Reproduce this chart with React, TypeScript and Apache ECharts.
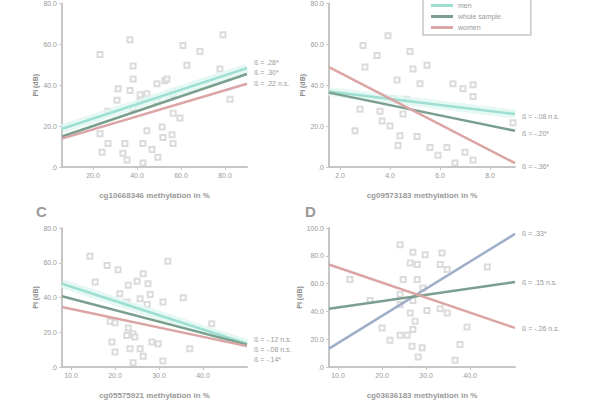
import React, { useEffect, useRef } from "react";
import * as echarts from "echarts";

const yTicksABC = [0, 20, 40, 60, 80];
const yTicksD = [0, 20, 40, 60, 80, 100];
const xTicksA = [20, 40, 60, 80];
const xTicksB = [2, 4, 6, 8];
const xTicksC = [10, 20, 30, 40];
const xTicksD = [10, 20, 30, 40];

const legendNames = ["men", "whole sample", "women"];

const pointsA = [
  [36.8, 62.3], [79.1, 64.7], [23.2, 55.1], [60.9, 59.4], [68.6, 56.5], [38.2, 49.4], [62.7, 49.8],
  [77.7, 47.9], [38.2, 43.1], [31.4, 38.3], [36.8, 37.4], [49.1, 40.7], [52.7, 42.2], [30.9, 32.6],
  [41.4, 35.4], [41.4, 32.1], [82.3, 33.1], [38.2, 28.7], [56.4, 26.3], [59.5, 24.0], [23.2, 16.3],
  [44.5, 17.7], [51.4, 19.6], [55.9, 15.8], [26.8, 11.5], [34.5, 11.5], [42.7, 11.5], [51.8, 14.4],
  [56.4, 11.5], [24.1, 7.2], [33.6, 6.7], [46.8, 8.6], [49.5, 4.8], [35.5, 3.4], [42.7, 1.9],
  [26.8, 27.3], [49.1, 32.1], [56.4, 35.4], [44.5, 35.9], [53.6, 43.1]
];
const pointsB = [
  [3.92, 64.2], [2.92, 59.4], [3.48, 54.6], [4.8, 56.5], [3.0, 48.9], [4.92, 47.9], [5.48, 49.8],
  [4.28, 42.6], [5.2, 40.7], [6.52, 40.7], [6.92, 38.3], [7.32, 40.2], [7.32, 34.5], [2.8, 28.3],
  [3.6, 27.3], [3.68, 22.5], [4.0, 20.1], [2.6, 17.7], [4.52, 25.9], [4.4, 15.3], [5.08, 14.9],
  [4.32, 10.5], [5.6, 9.6], [5.92, 5.7], [6.28, 9.6], [7.0, 7.2], [7.32, 3.4], [6.6, 1.9],
  [8.92, 21.6], [4.12, 33.5], [4.68, 33.1]
];
const pointsC = [
  [14.3, 63.7], [18.2, 58.4], [20.7, 56.0], [32.0, 60.8], [26.4, 53.7], [15.5, 48.9], [23.0, 47.0],
  [25.0, 49.3], [27.5, 47.9], [21.1, 42.2], [28.0, 41.7], [25.7, 39.3], [35.5, 39.8], [30.9, 37.4],
  [22.7, 37.4], [27.3, 35.9], [18.9, 26.3], [23.0, 22.5], [24.1, 19.2], [22.7, 18.2], [24.5, 17.2],
  [19.3, 14.4], [28.4, 14.4], [29.8, 13.4], [42.0, 24.9], [20.0, 8.6], [23.4, 10.5], [25.7, 10.5],
  [26.4, 6.2], [37.0, 10.5], [24.1, 2.4], [30.9, 3.4], [20.0, 25.4]
];
const pointsD = [
  [24.1, 88.0], [27.0, 82.6], [29.8, 80.8], [33.6, 82.0], [26.4, 74.9], [28.0, 73.7], [33.2, 73.7],
  [34.8, 70.1], [43.9, 71.9], [28.0, 62.9], [24.8, 62.9], [29.3, 56.9], [24.1, 52.1], [27.0, 47.9],
  [24.1, 44.9], [26.4, 38.9], [30.2, 40.7], [33.2, 41.9], [34.8, 38.9], [27.5, 32.9], [20.0, 28.1],
  [27.0, 26.9], [39.3, 28.7], [21.8, 19.2], [24.1, 22.8], [25.7, 22.8], [26.8, 15.0], [29.1, 13.8],
  [37.7, 16.2], [28.2, 7.2], [36.6, 4.8], [17.3, 47.9], [12.7, 62.9]
];

const lineAMen = [[5.9, 18.7], [90, 48.4]];
const lineAWhole = [[5.9, 14.9], [90, 45.5]];
const lineAWomen = [[5.9, 13.9], [90, 40.7]];
const betaA = ["ß = .28*", "ß = .30*", "ß = .22 n.s."];

const lineBMen = [[1.56, 36.9], [9.0, 25.9]];
const lineBWhole = [[1.56, 36.4], [9.0, 17.7]];
const lineBWomen = [[1.56, 48.9], [9.0, 1.9]];
const betaB = ["ß = -.08 n.s.", "ß = -.20*", "ß = -.36*"];

const lineCMen = [[7.95, 47.9], [50, 13.4]];
const lineCWhole = [[7.95, 40.7], [50, 12.9]];
const lineCWomen = [[7.95, 34.5], [50, 12.0]];
const betaC = ["ß = -.12 n.s.", "ß = -.08 n.s.", "ß = -.14*"];

const lineDMen = [[7.95, 13.2], [50.2, 95.8]];
const lineDWhole = [[7.95, 41.9], [50.2, 61.1]];
const lineDWomen = [[7.95, 73.7], [50.2, 28.1]];
const betaD = ["ß = .33*", "ß = .15 n.s.", "ß = -.26 n.s."];

const TEAL = "#9ddfd0";
const GREEN = "#7a9f8e";
const RED = "#dba5a5";
const BLUE = "#a0aec8";
const TXT = "#999999";
const AX = "#c6c6c6";

const fmt1 = (v: number) => (v === 0 ? ".0" : v.toFixed(1));

function xAxis(gridIndex: number, min: number, max: number, ticks: number[], name: string) {
  return {
    type: "value", gridIndex, min, max,
    name, nameLocation: "middle", nameGap: 24,
    nameTextStyle: { color: TXT, fontSize: 8, fontWeight: "bold" },
    axisLine: { lineStyle: { color: AX, width: 2 } },
    axisTick: { show: true, customValues: ticks, length: 3, lineStyle: { color: AX } },
    axisLabel: { customValues: ticks, color: TXT, fontSize: 7, margin: 5, formatter: (v: number) => fmt1(v) },
    splitLine: { show: false },
  };
}
function yAxis(gridIndex: number, max: number, ticks: number[]) {
  return {
    type: "value", gridIndex, min: 0, max,
    name: "PI (dB)", nameLocation: "middle", nameGap: 20,
    nameTextStyle: { color: "#888", fontSize: 7, fontWeight: "bold" },
    axisLine: { show: true, lineStyle: { color: AX, width: 2 } },
    axisTick: { show: true, customValues: ticks, length: 3, lineStyle: { color: AX } },
    axisLabel: { customValues: ticks, color: TXT, fontSize: 7, margin: 5, formatter: (v: number) => fmt1(v) },
    splitLine: { show: false },
  };
}
function scatter(idx: number, data: number[][]) {
  return {
    type: "scatter", xAxisIndex: idx, yAxisIndex: idx, data,
    symbol: "emptyRect", symbolSize: 5,
    itemStyle: { color: "#d2d2d2", borderWidth: 1 },
    z: 1,
  };
}
function band(idx: number, data: number[][]) {
  return {
    type: "line", xAxisIndex: idx, yAxisIndex: idx, data, symbol: "none",
    lineStyle: { color: "#e0f6f1", width: 9, opacity: 0.8 }, silent: true, z: 2,
  };
}
function reg(idx: number, name: string, data: number[][], color: string, label: string, dy: number) {
  const pts = data.map((p, i) =>
    i === data.length - 1
      ? { value: p, label: { show: true, position: "right", offset: [2, dy], formatter: label, color: TXT, fontSize: 7 } }
      : { value: p }
  );
  return {
    type: "line", name, xAxisIndex: idx, yAxisIndex: idx, data: pts,
    symbol: "circle", symbolSize: 0.01, showSymbol: true,
    itemStyle: { color },
    lineStyle: { color, width: 2.5 }, z: 3,
  };
}

export default function App() {
  const ref = useRef<HTMLDivElement>(null);
  useEffect(() => {
    if (!ref.current) return;
    const chart = echarts.init(ref.current, null, { renderer: "svg" });
    chart.setOption({
      animation: false,
      backgroundColor: "#fff",
      textStyle: { fontFamily: "Arial, Liberation Sans, sans-serif" },
      grid: [
        { left: 62, top: 0, width: 185, height: 167 },
        { left: 329, top: 0, width: 186, height: 167 },
        { left: 62, top: 228, width: 185, height: 167 },
        { left: 329, top: 228, width: 186, height: 167 },
      ],
      xAxis: [
        xAxis(0, 5.9, 90, xTicksA, "cg10668346 methylation in %"),
        xAxis(1, 1.56, 9.0, xTicksB, "cg09573183 methylation in %"),
        xAxis(2, 7.95, 50, xTicksC, "cg05575921 methylation in %"),
        xAxis(3, 7.95, 50.2, xTicksD, "cg03636183 methylation in %"),
      ],
      yAxis: [yAxis(0, 80, yTicksABC), yAxis(1, 80, yTicksABC), yAxis(2, 80, yTicksABC), yAxis(3, 100, yTicksD)],
      legend: {
        orient: "vertical", left: 423, top: -4, width: 95,
        itemWidth: 22, itemHeight: 3, itemGap: 4, icon: "rect",
        padding: [6, 30, 4, 8],
        borderColor: AX, borderWidth: 1.5,
        textStyle: { color: TXT, fontSize: 7 },
        data: legendNames,
      },
      graphic: [
        { type: "text", left: 36, top: 204, style: { text: "C", fontSize: 15, fontWeight: "bold", fill: "#999" } },
        { type: "text", left: 305, top: 204, style: { text: "D", fontSize: 15, fontWeight: "bold", fill: "#999" } },
      ],
      series: [
        scatter(0, pointsA), scatter(1, pointsB), scatter(2, pointsC), scatter(3, pointsD),
        band(0, lineAMen), band(1, lineBMen), band(2, lineCMen),
        reg(0, legendNames[0], lineAMen, TEAL, betaA[0], -6),
        reg(0, legendNames[1], lineAWhole, GREEN, betaA[1], -2),
        reg(0, legendNames[2], lineAWomen, RED, betaA[2], 0),
        reg(1, legendNames[0], lineBMen, TEAL, betaB[0], 2),
        reg(1, legendNames[1], lineBWhole, GREEN, betaB[1], 3),
        reg(1, legendNames[2], lineBWomen, RED, betaB[2], 3),
        reg(2, legendNames[0], lineCMen, TEAL, betaC[0], -4),
        reg(2, legendNames[1], lineCWhole, GREEN, betaC[1], 5),
        reg(2, legendNames[2], lineCWomen, RED, betaC[2], 13),
        reg(3, "men ", lineDMen, BLUE, betaD[0], 0),
        reg(3, legendNames[1], lineDWhole, GREEN, betaD[1], 0),
        reg(3, legendNames[2], lineDWomen, RED, betaD[2], 1),
      ],
    });
    return () => chart.dispose();
  }, []);
  return <div ref={ref} style={{ width: 600, height: 400, position: "absolute", left: 0, top: 0 }} />;
}
